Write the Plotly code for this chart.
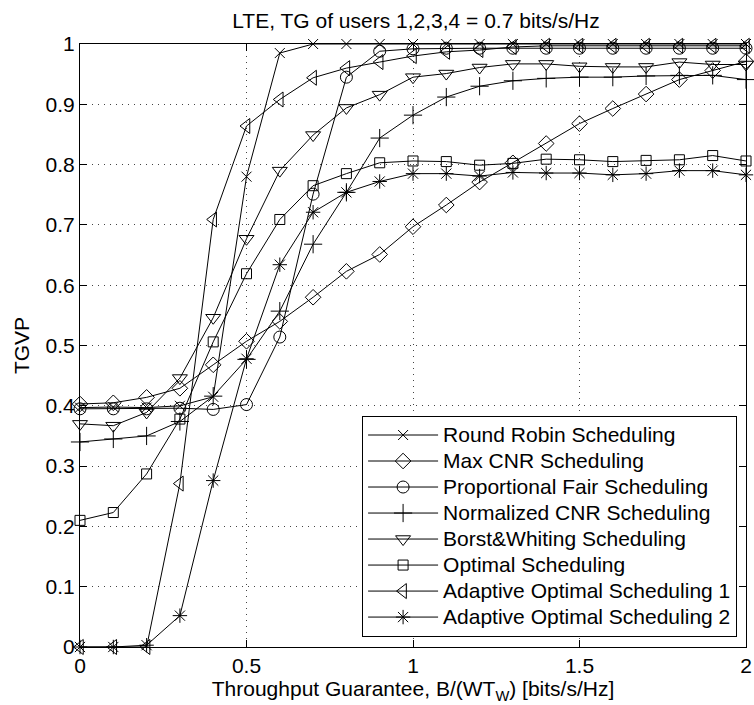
import plotly.graph_objects as go

x_vals = [round(i * 0.1, 1) for i in range(21)]

round_robin = [0.397, 0.398, 0.397, 0.400, 0.415, 0.780, 0.985, 1.0, 1.0, 1.0, 1.0,
               1.0, 1.0, 1.0, 1.0, 1.0, 1.0, 1.0, 1.0, 1.0, 1.0]
max_cnr = [0.403, 0.405, 0.414, 0.429, 0.468, 0.507, 0.540, 0.580, 0.623, 0.651, 0.697,
           0.733, 0.771, 0.803, 0.835, 0.868, 0.893, 0.917, 0.941, 0.956, 0.971]
prop_fair = [0.395, 0.395, 0.395, 0.396, 0.394, 0.402, 0.514, 0.751, 0.945, 0.988, 0.992,
             0.993, 0.993, 0.993, 0.993, 0.993, 0.993, 0.993, 0.993, 0.993, 0.993]
norm_cnr = [0.340, 0.345, 0.350, 0.374, 0.416, 0.477, 0.557, 0.668, 0.754, 0.844, 0.882,
            0.912, 0.930, 0.939, 0.943, 0.945, 0.945, 0.947, 0.948, 0.948, 0.941]
borst_whiting = [0.370, 0.367, 0.389, 0.446, 0.546, 0.677, 0.790, 0.849, 0.894, 0.916, 0.945,
                 0.951, 0.961, 0.967, 0.967, 0.963, 0.962, 0.962, 0.970, 0.966, 0.966]
optimal = [0.210, 0.223, 0.287, 0.378, 0.506, 0.619, 0.709, 0.765, 0.785, 0.803, 0.806,
           0.805, 0.799, 0.802, 0.809, 0.808, 0.805, 0.807, 0.808, 0.815, 0.806]
adaptive1 = [0.0, 0.0, 0.0, 0.271, 0.709, 0.864, 0.908, 0.944, 0.960, 0.970, 0.980,
             0.987, 0.990, 0.995, 0.997, 0.997, 0.997, 0.997, 0.997, 0.997, 0.997]
adaptive2 = [0.0, 0.0, 0.003, 0.052, 0.276, 0.478, 0.634, 0.721, 0.754, 0.772, 0.785,
             0.785, 0.781, 0.787, 0.786, 0.786, 0.783, 0.785, 0.790, 0.790, 0.783]

series_names = ["Round Robin Scheduling", "Max CNR Scheduling", "Proportional Fair Scheduling",
                "Normalized CNR Scheduling", "Borst&Whiting Scheduling", "Optimal Scheduling",
                "Adaptive Optimal Scheduling 1", "Adaptive Optimal Scheduling 2"]
series_values = [round_robin, max_cnr, prop_fair, norm_cnr, borst_whiting, optimal,
                 adaptive1, adaptive2]
symbols = ["x-thin-open", "diamond-open", "circle-open", "cross-thin-open",
           "triangle-down-open", "square-open", "triangle-left-open", "asterisk-open"]
sizes = [10, 12, 12, 13, 13, 10, 13, 12]

FONT = "Liberation Sans, Arial, Helvetica, sans-serif"

fig = go.Figure()
for name, vals, sym, sz in zip(series_names, series_values, symbols, sizes):
    fig.add_trace(go.Scatter(
        x=x_vals, y=vals,
        name='<span style="font-size:21px">' + name.replace("&", "&amp;") + "</span>",
        mode="lines+markers",
        line=dict(color="black", width=1),
        marker=dict(symbol=sym, size=sz, color="black", line=dict(color="black", width=1)),
        cliponaxis=False,
    ))

axis_common = dict(
    showline=True, linecolor="black", linewidth=1, mirror="ticks",
    ticks="inside", ticklen=7, tickcolor="black", tickwidth=1,
    showgrid=True, gridcolor="#444", gridwidth=1, griddash="1px,5px",
    zeroline=False, tickfont=dict(family=FONT, size=21, color="black"),
    ticklabeloverflow="allow",
)

fig.update_layout(
    width=754, height=705,
    margin=dict(l=80, r=2, t=44, b=58),
    paper_bgcolor="white", plot_bgcolor="white",
    font=dict(family=FONT, size=21, color="black"),
    title=dict(text="LTE, TG of users 1,2,3,4 = 0.7 bits/s/Hz", x=(80 + 752) / 2 / 754,
               xanchor="center", y=1 - 21 / 705, yanchor="middle",
               font=dict(family=FONT, size=21, color="black")),
    xaxis=dict(range=[0, 2], tickvals=[0, 0.5, 1, 1.5, 2], ticktext=["0", "0.5", "1", "1.5", "2"],
               title=dict(text="Throughput Guarantee, B/(WT<sub>W</sub>) [bits/s/Hz]",
                          font=dict(family=FONT, size=21, color="black"), standoff=4),
               **axis_common),
    yaxis=dict(range=[0, 1], tickvals=[i / 10 for i in range(11)],
               ticktext=["0", "0.1", "0.2", "0.3", "0.4", "0.5", "0.6", "0.7", "0.8", "0.9", "1"],
               title=dict(text="TGVP", font=dict(family=FONT, size=21, color="black"), standoff=10),
               **axis_common),
    legend=dict(x=(743 - 80) / 672, y=(647 - 637) / 603, xanchor="right", yanchor="bottom",
                bgcolor="white", bordercolor="black", borderwidth=1,
                font=dict(family=FONT, size=17.7, color="black"),
                itemwidth=70, tracegroupgap=0),
    showlegend=True,
)

fig.write_html("out.html")
